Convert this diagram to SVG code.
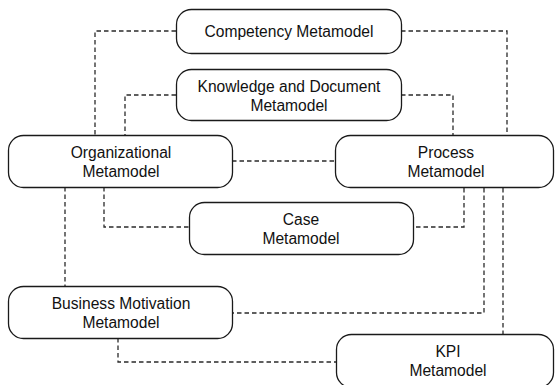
<svg xmlns="http://www.w3.org/2000/svg" width="555" height="385" viewBox="0 0 555 385">
<style>
.box{fill:#fff;stroke:#1a1a1a;stroke-width:1.3}
.t{font-family:"Liberation Sans",Arial,sans-serif;font-size:15.6px;fill:#111;text-anchor:middle}
.c{fill:none;stroke:#2a2a2a;stroke-width:1.3;stroke-dasharray:4.5 3}
</style>
<rect width="555" height="385" fill="#fff"/>
<g id="connectors">
<path class="c" d="M176,31 H95 V135"/>
<path class="c" d="M401,31 H507 V135"/>
<path class="c" d="M176,95 H125 V135"/>
<path class="c" d="M401,95 H453 V135"/>
<path class="c" d="M232,161 H335"/>
<path class="c" d="M104,187 V227 H189"/>
<path class="c" d="M65,187 V286"/>
<path class="c" d="M464,188 V227 H413"/>
<path class="c" d="M484,188 V313 H232"/>
<path class="c" d="M503,188 V334"/>
<path class="c" d="M118,338 V362 H336"/>
</g>
<g id="competency">
<rect class="box" x="176.5" y="9.5" width="225" height="44" rx="15"/>
<text class="t" x="289" y="37">Competency Metamodel</text>
</g>
<g id="knowledge">
<rect class="box" x="176.5" y="69.5" width="225" height="51" rx="15"/>
<text class="t" x="289" y="92">Knowledge and Document</text>
<text class="t" x="289" y="111">Metamodel</text>
</g>
<g id="organizational">
<rect class="box" x="8.5" y="135.5" width="224" height="52" rx="15"/>
<text class="t" x="121" y="158">Organizational</text>
<text class="t" x="121" y="177">Metamodel</text>
</g>
<g id="process">
<rect class="box" x="335.5" y="135.5" width="218" height="52" rx="15"/>
<text class="t" x="446" y="158">Process</text>
<text class="t" x="446" y="177">Metamodel</text>
</g>
<g id="case">
<rect class="box" x="189.5" y="202.5" width="224" height="52" rx="15"/>
<text class="t" x="301" y="225">Case</text>
<text class="t" x="301" y="244">Metamodel</text>
</g>
<g id="business">
<rect class="box" x="8.5" y="286.5" width="224" height="52" rx="15"/>
<text class="t" x="121" y="309">Business Motivation</text>
<text class="t" x="121" y="328">Metamodel</text>
</g>
<g id="kpi">
<rect class="box" x="336.5" y="334.5" width="217" height="53" rx="15"/>
<text class="t" x="448" y="357">KPI</text>
<text class="t" x="448" y="376">Metamodel</text>
</g>
</svg>
